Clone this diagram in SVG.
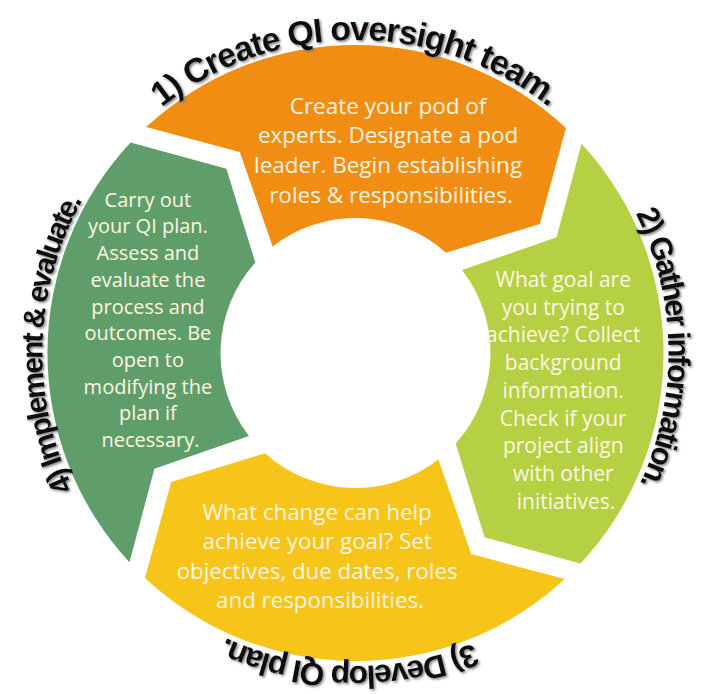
<svg xmlns="http://www.w3.org/2000/svg" width="704" height="694" viewBox="0 0 704 694">
  <defs>
    <filter id="shadow" x="-10%" y="-10%" width="120%" height="120%">
      <feDropShadow dx="1.5" dy="1.5" stdDeviation="0.8" flood-color="#7a7a7a" flood-opacity="0.9"/>
    </filter>
    <!-- circular baselines (r = 313) for the step titles, each centred on its segment -->
    <path id="arcTop" d="M42.5,353 A313,313 0 0 1 668.5,353"/>
    <path id="arcRight" d="M355.5,40 A313,313 0 0 1 355.5,666"/>
    <path id="arcBottom" d="M668.5,353 A313,313 0 0 1 42.5,353"/>
    <path id="arcLeft" d="M355.5,666 A313,313 0 0 1 355.5,40"/>
  </defs>
  <style>
    .body { font-family: "Open Sans", "Noto Sans", sans-serif; fill: #FFF5E1; text-anchor: middle; }
    .title { font-family: "Liberation Sans", Arial, sans-serif; font-weight: bold; fill: #111; text-anchor: middle; }
  </style>

  <rect width="704" height="694" fill="#ffffff"/>

  <!-- Step 1 -->
  <g id="step1">
    <path d="M146.2,127.0 A308,308 0 0 1 566.0,128.1 L539.8,223.9 L446.0,252.8 A135,135 0 0 0 272.6,246.5 L239.8,151.9 Z" fill="#F28D14"/>
    <text class="body" font-size="22.5">
      <tspan x="391" y="113.5">Create your pod of</tspan>
      <tspan x="391" y="143.3">experts. Designate a pod</tspan>
      <tspan x="391" y="173.1">leader. Begin establishing</tspan>
      <tspan x="391" y="202.9">roles &amp; responsibilities.</tspan>
    </text>
    <text class="title" font-size="34" filter="url(#shadow)"><textPath href="#arcTop" startOffset="50%" textLength="418" lengthAdjust="spacing">1) Create QI oversight team.</textPath></text>
  </g>

  <!-- Step 2 -->
  <g id="step2">
    <path d="M581.5,143.7 A308,308 0 0 1 580.4,563.5 L484.6,537.3 L455.7,443.5 A135,135 0 0 0 462.0,270.1 L556.6,237.3 Z" fill="#B5D042"/>
    <text class="body" font-size="21">
      <tspan x="566" y="287">What goal are</tspan>
      <tspan x="566" y="314.7">you trying to</tspan>
      <tspan x="566" y="342.4">achieve? Collect</tspan>
      <tspan x="566" y="370.1">background</tspan>
      <tspan x="566" y="397.8">information.</tspan>
      <tspan x="566" y="425.5">Check if your</tspan>
      <tspan x="566" y="453.2">project align</tspan>
      <tspan x="566" y="480.9">with other</tspan>
      <tspan x="566" y="508.6">initiatives.</tspan>
    </text>
    <text class="title" font-size="31" filter="url(#shadow)"><textPath href="#arcRight" startOffset="49.5%" textLength="280" lengthAdjust="spacing">2) Gather information.</textPath></text>
  </g>

  <!-- Step 3 -->
  <g id="step3">
    <path d="M564.8,579.0 A308,308 0 0 1 145.0,577.9 L171.2,482.1 L265.0,453.2 A135,135 0 0 0 438.4,459.5 L471.2,554.1 Z" fill="#F7C419"/>
    <text class="body" font-size="22.3">
      <tspan x="320" y="520">What change can help</tspan>
      <tspan x="320" y="549.4">achieve your goal? Set</tspan>
      <tspan x="320" y="578.8">objectives, due dates, roles</tspan>
      <tspan x="320" y="608.2">and responsibilities.</tspan>
    </text>
    <text class="title" font-size="32" filter="url(#shadow)"><textPath href="#arcBottom" startOffset="50.7%" textLength="255" lengthAdjust="spacing">3) Develop QI plan.</textPath></text>
  </g>

  <!-- Step 4 -->
  <g id="step4">
    <path d="M129.5,562.3 A308,308 0 0 1 130.6,142.5 L226.4,168.7 L255.3,262.5 A135,135 0 0 0 249.0,435.9 L154.4,468.7 Z" fill="#5F9E6A"/>
    <text class="body" font-size="20">
      <tspan x="150.5" y="206.7">Carry out</tspan>
      <tspan x="150.5" y="233.4">your QI plan.</tspan>
      <tspan x="150.5" y="260.1">Assess and</tspan>
      <tspan x="150.5" y="286.8">evaluate the</tspan>
      <tspan x="150.5" y="313.5">process and</tspan>
      <tspan x="150.5" y="340.2">outcomes. Be</tspan>
      <tspan x="150.5" y="366.9">open to</tspan>
      <tspan x="150.5" y="393.6">modifying the</tspan>
      <tspan x="150.5" y="420.3">plan if</tspan>
      <tspan x="150.5" y="447">necessary.</tspan>
    </text>
    <text class="title" font-size="30" filter="url(#shadow)"><textPath href="#arcLeft" startOffset="51%" textLength="300" lengthAdjust="spacing">4) Implement &amp; evaluate.</textPath></text>
  </g>

  <!-- the ring has no separate connectors; the arrow-shaped segments carry the flow -->
  <g id="connectors"/>
</svg>
